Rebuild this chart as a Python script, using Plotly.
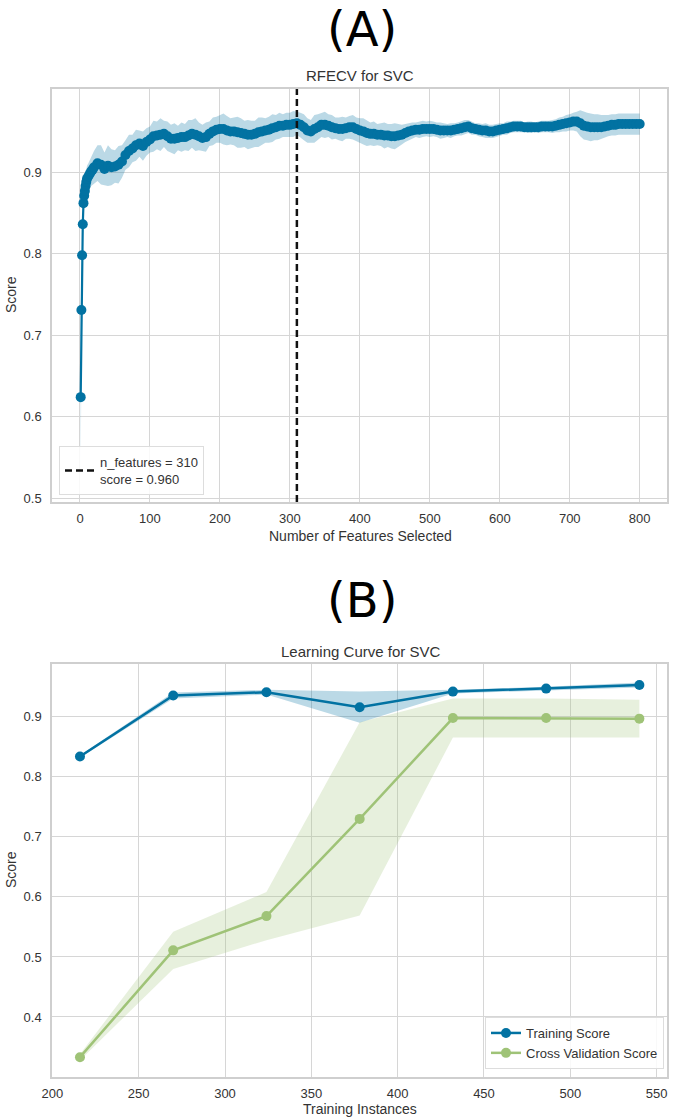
import plotly.graph_objects as go

# ---------------- Data: (A) RFECV ----------------
rfe_n = ([1, 2, 3, 4, 5, 6, 7, 8, 9, 10, 12, 14, 16, 18]
         + list(range(20, 96, 5))
         + list(range(100, 801, 5)))
rfe_score = [0.624, 0.731, 0.798, 0.836, 0.862, 0.871, 0.877, 0.883, 0.888, 0.892, 0.895, 0.898, 0.901, 0.903,
             0.906, 0.911, 0.909, 0.904, 0.908, 0.906, 0.907, 0.909, 0.913, 0.921, 0.926, 0.929, 0.933, 0.935, 0.932, 0.937,
             0.940, 0.944, 0.945, 0.946, 0.947, 0.944, 0.941, 0.941, 0.942, 0.943,
             0.943, 0.945, 0.947, 0.946, 0.944, 0.942, 0.943, 0.947, 0.950, 0.952,
             0.953, 0.953, 0.951, 0.950, 0.950, 0.949, 0.948, 0.947, 0.946, 0.946,
             0.947, 0.949, 0.950, 0.951, 0.952, 0.954, 0.955, 0.957, 0.957, 0.958,
             0.958, 0.959, 0.960, 0.958, 0.955, 0.951, 0.950, 0.953, 0.955, 0.958,
             0.958, 0.957, 0.955, 0.954, 0.953, 0.953, 0.954, 0.955, 0.955, 0.953,
             0.951, 0.950, 0.948, 0.947, 0.947, 0.946, 0.946, 0.945, 0.945, 0.944,
             0.944, 0.945, 0.946, 0.948, 0.950, 0.951, 0.952, 0.952, 0.953, 0.953,
             0.953, 0.953, 0.952, 0.951, 0.951, 0.951, 0.951, 0.952, 0.953, 0.954,
             0.955, 0.956, 0.954, 0.953, 0.952, 0.951, 0.951, 0.950, 0.950, 0.951,
             0.952, 0.953, 0.954, 0.955, 0.956, 0.956, 0.956, 0.955, 0.955, 0.955,
             0.955, 0.955, 0.956, 0.956, 0.956, 0.956, 0.957, 0.958, 0.959, 0.960,
             0.961, 0.962, 0.962, 0.960, 0.957, 0.956, 0.955, 0.955, 0.955, 0.955,
             0.956, 0.957, 0.958, 0.958, 0.959, 0.959, 0.959, 0.959, 0.959, 0.959,
             0.959]
rfe_std = [0.106, 0.050, 0.030, 0.022, 0.018, 0.016, 0.016, 0.015, 0.015, 0.016, 0.016, 0.017, 0.018, 0.018,
           0.020, 0.022, 0.024, 0.020, 0.025, 0.022, 0.020, 0.023, 0.020, 0.018, 0.020, 0.017, 0.019, 0.016, 0.018, 0.017,
           0.016, 0.019, 0.017, 0.020, 0.016, 0.018, 0.017, 0.019, 0.015, 0.018,
           0.016, 0.019, 0.017, 0.020, 0.017, 0.016, 0.018, 0.015, 0.017, 0.016,
           0.017, 0.019, 0.018, 0.016, 0.017, 0.019, 0.018, 0.016, 0.018, 0.017,
           0.016, 0.018, 0.017, 0.015, 0.016, 0.017, 0.015, 0.016, 0.014, 0.015,
           0.015, 0.016, 0.014, 0.015, 0.016, 0.015, 0.014, 0.017, 0.016, 0.015,
           0.016, 0.014, 0.015, 0.013, 0.014, 0.015, 0.013, 0.014, 0.015, 0.014,
           0.015, 0.016, 0.016, 0.014, 0.015, 0.013, 0.014, 0.016, 0.014, 0.015,
           0.016, 0.014, 0.012, 0.011, 0.010, 0.010, 0.009, 0.010, 0.010, 0.009,
           0.010, 0.009, 0.009, 0.010, 0.009, 0.008, 0.009, 0.008, 0.008, 0.009,
           0.009, 0.008, 0.008, 0.007, 0.008, 0.008, 0.009, 0.008, 0.008, 0.008,
           0.008, 0.007, 0.008, 0.007, 0.007, 0.007, 0.007, 0.006, 0.007, 0.007,
           0.006, 0.007, 0.007, 0.007, 0.007, 0.008, 0.008, 0.009, 0.009, 0.010,
           0.010, 0.011, 0.012, 0.016, 0.017, 0.017, 0.017, 0.016, 0.016, 0.015,
           0.014, 0.013, 0.013, 0.013, 0.013, 0.013, 0.013, 0.013, 0.013, 0.013,
           0.013]
selected_n = 310
selected_score = 0.960

# ---------------- Data: (B) Learning curve ----------------
lc_sizes = [216, 270, 324, 378, 432, 486, 540]
train_mean = [0.834, 0.9355, 0.941, 0.916, 0.942, 0.947, 0.953]
train_std = [0.002, 0.005, 0.004, 0.026, 0.003, 0.003, 0.004]
cv_mean = [0.333, 0.511, 0.568, 0.730, 0.898, 0.898, 0.897]
cv_std = [0.005, 0.031, 0.040, 0.161, 0.0325, 0.0325, 0.0315]

# ticks
a_xticks = [0, 100, 200, 300, 400, 500, 600, 700, 800]
a_yticks = [0.5, 0.6, 0.7, 0.8, 0.9]
b_xticks = [200, 250, 300, 350, 400, 450, 500, 550]
b_yticks = [0.4, 0.5, 0.6, 0.7, 0.8, 0.9]

# ---------------- Style ----------------
W, H = 674, 1119
FONT = "Liberation Sans, Arial, sans-serif"
BLUE = "#0272a2"
GREEN = "#9fc377"
BLUE_FILL = "rgba(2,114,162,0.27)"
GREEN_FILL = "rgba(159,195,119,0.25)"
TXT = "#333333"

a_xrange = [-40, 839]
a_yrange = [0.4954, 1.002]
b_xrange = [199.8, 556.0]
b_yrange = [0.300, 0.988]


def px_x(p):
    return p / W


def px_y(p):
    return 1 - p / H


def band(x, m, s):
    up = [a + b for a, b in zip(m, s)]
    lo = [a - b for a, b in zip(m, s)]
    return list(x) + list(x)[::-1], up + lo[::-1]


fig = go.Figure()

# (A) band, curve, selected line
bx, by = band(rfe_n, rfe_score, rfe_std)
fig.add_trace(go.Scatter(x=bx, y=by, fill="toself", fillcolor=BLUE_FILL, line=dict(width=0),
                         mode="lines", hoverinfo="skip", showlegend=False, xaxis="x", yaxis="y"))
fig.add_trace(go.Scatter(x=rfe_n, y=rfe_score, mode="lines+markers",
                         line=dict(color=BLUE, width=2.2), marker=dict(color=BLUE, size=10),
                         showlegend=False, xaxis="x", yaxis="y"))
fig.add_trace(go.Scatter(x=[selected_n, selected_n], y=a_yrange, mode="lines",
                         line=dict(color="#111111", width=2.5, dash="7px,4px"),
                         name=f"n_features = {selected_n}<br>score = {selected_score:.3f}",
                         showlegend=True, legend="legend", xaxis="x", yaxis="y"))

# (B) bands and lines
tx, ty = band(lc_sizes, train_mean, train_std)
fig.add_trace(go.Scatter(x=tx, y=ty, fill="toself", fillcolor=BLUE_FILL, line=dict(width=0),
                         mode="lines", hoverinfo="skip", showlegend=False, xaxis="x2", yaxis="y2"))
cx, cy = band(lc_sizes, cv_mean, cv_std)
fig.add_trace(go.Scatter(x=cx, y=cy, fill="toself", fillcolor=GREEN_FILL, line=dict(width=0),
                         mode="lines", hoverinfo="skip", showlegend=False, xaxis="x2", yaxis="y2"))
fig.add_trace(go.Scatter(x=lc_sizes, y=train_mean, mode="lines+markers", name="Training Score",
                         line=dict(color=BLUE, width=2.5), marker=dict(color=BLUE, size=10),
                         legend="legend2", xaxis="x2", yaxis="y2"))
fig.add_trace(go.Scatter(x=lc_sizes, y=cv_mean, mode="lines+markers", name="Cross Validation Score",
                         line=dict(color=GREEN, width=2.5), marker=dict(color=GREEN, size=10),
                         legend="legend2", xaxis="x2", yaxis="y2"))

axis_common = dict(showgrid=True, gridcolor="#d6d6d6", gridwidth=1.2, showline=True,
                   linecolor="#cfcfcf", linewidth=1.5, mirror=True, zeroline=False, ticks="",
                   automargin=False, tickfont=dict(family=FONT, size=13, color=TXT))

xdom = [px_x(52), px_x(667)]
fig.update_layout(
    width=W, height=H, margin=dict(l=0, r=0, t=0, b=0, autoexpand=False),
    paper_bgcolor="white", plot_bgcolor="white",
    font=dict(family=FONT, color=TXT),
    xaxis=dict(domain=xdom, range=a_xrange, tickvals=a_xticks, anchor="y", ticklabelstandoff=4, **axis_common),
    yaxis=dict(domain=[px_y(502), px_y(89)], range=a_yrange, tickvals=a_yticks,
               tickformat=".1f", anchor="x", ticklabelstandoff=6, **axis_common),
    xaxis2=dict(domain=xdom, range=b_xrange, tickvals=b_xticks, anchor="y2", ticklabelstandoff=4, **axis_common),
    yaxis2=dict(domain=[px_y(1077), px_y(664)], range=b_yrange, tickvals=b_yticks,
                tickformat=".1f", anchor="x2", ticklabelstandoff=6, **axis_common),
    legend=dict(x=px_x(59), y=px_y(495), xanchor="left", yanchor="bottom",
                bgcolor="rgba(255,255,255,0.85)", bordercolor="#dddddd", borderwidth=1,
                font=dict(family=FONT, size=13, color=TXT), itemwidth=30, tracegroupgap=0),
    legend2=dict(x=px_x(664), y=px_y(1069), xanchor="right", yanchor="bottom",
                 bgcolor="rgba(255,255,255,0.85)", bordercolor="#dddddd", borderwidth=1,
                 font=dict(family=FONT, size=13, color=TXT), itemwidth=30, tracegroupgap=0),
    showlegend=True,
)

ann = [
    dict(text="(A)", x=px_x(362), y=px_y(29), font=dict(family="DejaVu Sans", size=48, color="#000000")),
    dict(text="(B)", x=px_x(362), y=px_y(600), font=dict(family="DejaVu Sans", size=48, color="#000000")),
    dict(text="RFECV for SVC", x=px_x(360), y=px_y(75), font=dict(family=FONT, size=15, color=TXT)),
    dict(text="Learning Curve for SVC", x=px_x(360), y=px_y(651), font=dict(family=FONT, size=15, color=TXT)),
    dict(text="Number of Features Selected", x=px_x(360), y=px_y(536), font=dict(family=FONT, size=14, color=TXT)),
    dict(text="Training Instances", x=px_x(360), y=px_y(1109), font=dict(family=FONT, size=14, color=TXT)),
    dict(text="Score", x=px_x(11), y=px_y(295), textangle=-90, font=dict(family=FONT, size=14, color=TXT)),
    dict(text="Score", x=px_x(11), y=px_y(870), textangle=-90, font=dict(family=FONT, size=14, color=TXT)),
]
for a in ann:
    fig.add_annotation(xref="paper", yref="paper", xanchor="center", yanchor="middle",
                       showarrow=False, **a)

# remove the default 8px page margin so the figure sits at the window origin
fig.write_html("out.html", config={"displayModeBar": False},
               post_script="document.body.style.margin='0';")
